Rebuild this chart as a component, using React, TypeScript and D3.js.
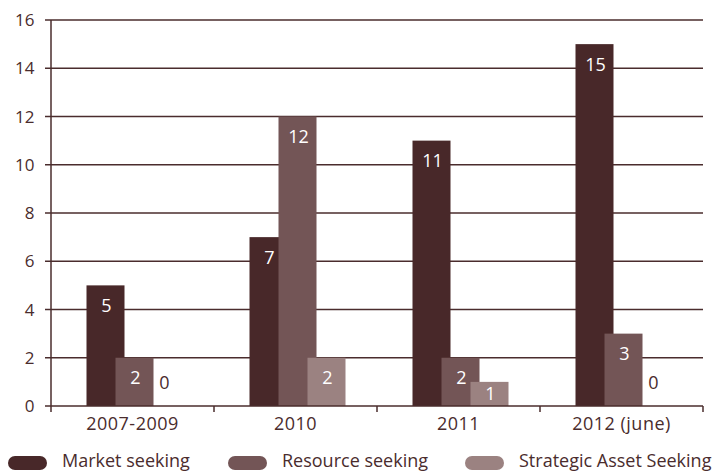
import React from "react";
import * as d3 from "d3";

const categories = ["2007-2009", "2010", "2011", "2012 (june)"];
const seriesNames = ["Market seeking", "Resource seeking", "Strategic Asset Seeking"];
const marketSeeking = [5, 7, 11, 15];
const resourceSeeking = [2, 12, 2, 3];
const strategicAsset = [0, 2, 1, 0];
const yTicks = [0, 2, 4, 6, 8, 10, 12, 14, 16];

const colors = ["#482829", "#735556", "#9b8281"];
const textColor = "#4a2c2d";
const font = "'Open Sans', sans-serif";

export default function App() {
  const W = 723, H = 472;
  const left = 51, right = 703, top = 20, bottom = 406;
  const x = d3.scaleBand<string>().domain(categories).range([left, right]);
  const y = d3.scaleLinear().domain([0, 16]).range([bottom, top]);
  const series = [marketSeeking, resourceSeeking, strategicAsset];
  const barW = 38, step = 29;

  const legendX = [8, 228, 465];

  return (
    <svg width={W} height={H} style={{ position: "absolute", left: 0, top: 0 }} fontFamily={font}>
      <rect width={W} height={H} fill="#fff" />
      {yTicks.map((t) => (
        <g key={t}>
          {t > 0 && (
            <line x1={45} x2={right} y1={y(t)} y2={y(t)} stroke={textColor} strokeWidth={1.5} />
          )}
          <text x={34.5} y={y(t)} dy="0.36em" textAnchor="end" fontSize={17} fill={textColor}>
            {t}
          </text>
        </g>
      ))}
      {series.map((vals, si) =>
        vals.map((v, ci) => {
          const cx = (x(categories[ci]) as number) + x.bandwidth() / 2 + 2 + (si - 1) * step;
          const yt = y(v);
          return v > 0 ? (
            <rect key={`${si}-${ci}`} x={cx - barW / 2} y={yt} width={barW} height={bottom - yt} fill={colors[si]} />
          ) : null;
        })
      )}
      <line x1={left} x2={left} y1={top} y2={bottom} stroke={textColor} strokeWidth={1.5} />
      <line x1={45} x2={right} y1={bottom} y2={bottom} stroke={textColor} strokeWidth={1.5} />
      {[...categories.map((c) => x(c) as number), right].map((tx, i) => (
        <line key={i} x1={tx} x2={tx} y1={bottom} y2={bottom + 6} stroke={textColor} strokeWidth={1.5} />
      ))}
      {series.map((vals, si) =>
        vals.map((v, ci) => {
          const cx = (x(categories[ci]) as number) + x.bandwidth() / 2 + 2 + (si - 1) * step;
          const yt = y(v);
          let ly: number;
          let fill = "#fff";
          if (v === 0) {
            ly = bottom - 23;
            fill = textColor;
          } else if (v < 2) {
            ly = (yt + bottom) / 2;
          } else {
            ly = yt + 20;
          }
          return (
            <text key={`l${si}-${ci}`} x={cx + 1} y={ly} dy="0.36em" textAnchor="middle" fontSize={18} fill={fill}>
              {v}
            </text>
          );
        })
      )}
      {categories.map((c) => (
        <text key={c} x={(x(c) as number) + x.bandwidth() / 2} y={424} dy="0.36em" textAnchor="middle" fontSize={18} fill={textColor} letterSpacing={0.5}>
          {c}
        </text>
      ))}
      {seriesNames.map((n, i) => (
        <g key={n}>
          <rect x={legendX[i]} y={456} width={39} height={14} rx={7} fill={colors[i]} />
          <text x={legendX[i] + 54} y={467} fontSize={18} fill={textColor}>
            {n}
          </text>
        </g>
      ))}
    </svg>
  );
}
